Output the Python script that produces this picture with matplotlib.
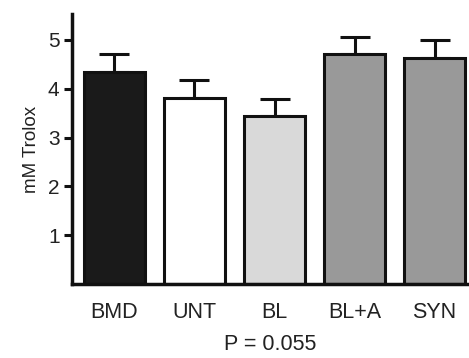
import matplotlib
matplotlib.use("Agg")
import matplotlib.pyplot as plt

categories = ["BMD", "UNT", "BL", "BL+A", "SYN"]
values = [4.34, 3.81, 3.44, 4.71, 4.63]
errors = [0.38, 0.37, 0.35, 0.35, 0.37]
colors = ["#1a1a1a", "#ffffff", "#d9d9d9", "#999999", "#999999"]
yticks = [1, 2, 3, 4, 5]

plt.rcParams['font.family'] = ['Liberation Sans', 'DejaVu Sans']

fig = plt.figure(figsize=(4.69, 3.58), dpi=100)
ax = fig.add_axes([72/469, 74/358, 397/469, 270/358])

x = list(range(len(categories)))
ax.bar(x, values, width=0.77, color=colors, edgecolor="#111111", linewidth=2.2, zorder=2)
ax.errorbar(x, values, yerr=[[0]*len(errors), errors], fmt="none", ecolor="#111111",
            elinewidth=2.2, capsize=11, capthick=2.2, zorder=1)

ax.set_xlim(-0.53, 4.43)
ax.set_ylim(0, 5.53)
ax.set_yticks(yticks)
ax.set_yticklabels([str(t) for t in yticks], fontsize=15, color="#222222")
ax.set_xticks(x)
ax.set_xticklabels(categories, fontsize=15.5, color="#222222")
ax.tick_params(axis="x", length=0, pad=13)
ax.tick_params(axis="y", length=6, width=2.2, pad=3, color="#111111")
for s in ["top", "right"]:
    ax.spines[s].set_visible(False)
for s in ["left", "bottom"]:
    ax.spines[s].set_linewidth(2.5)
    ax.spines[s].set_color("#111111")

ax.set_ylabel("mM Trolox", fontsize=13.5, color="#222222", labelpad=6)
ax.set_xlabel("P = 0.055", fontsize=15.5, color="#222222", labelpad=8)

fig.savefig("out.png", dpi=100)
